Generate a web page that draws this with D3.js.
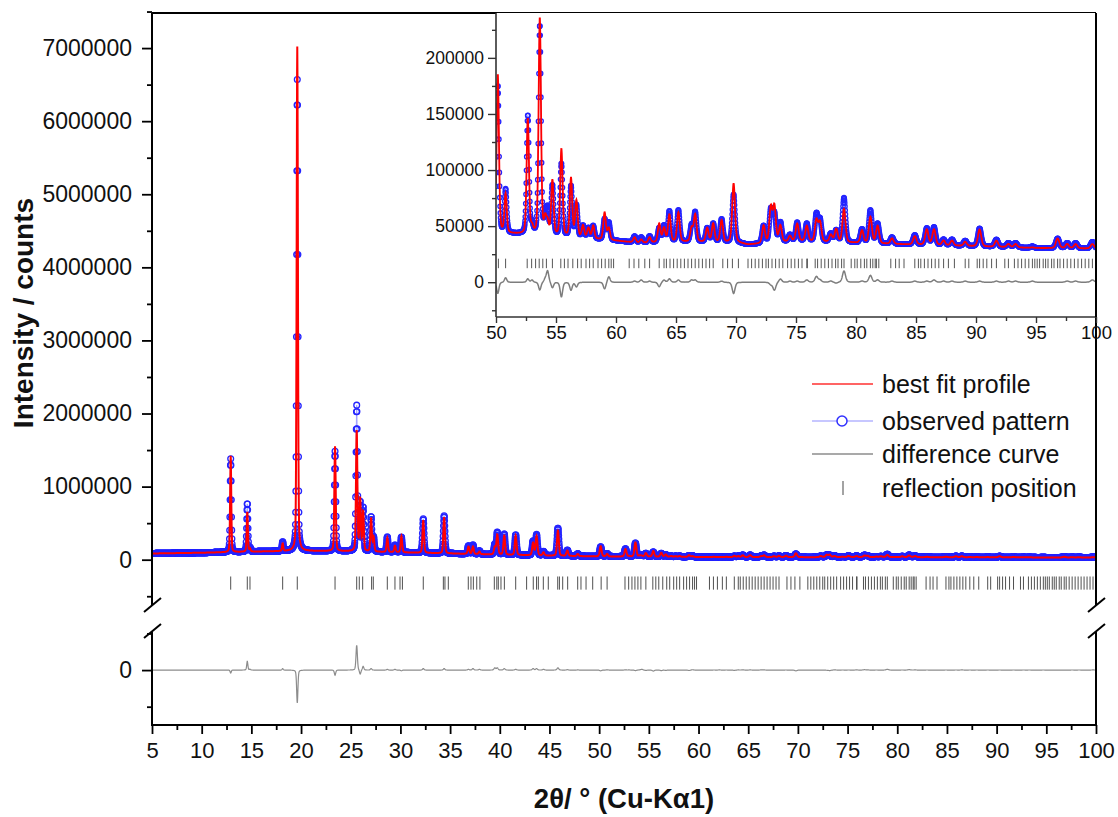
<!DOCTYPE html>
<html>
<head>
<meta charset="utf-8">
<script src="https://cdn.jsdelivr.net/npm/d3@7"></script>
<style>
body { margin: 0; background: #fff; }
svg text { font-family: "Liberation Sans", Arial, sans-serif; fill: #111; }
.narrow text { font-family: "Liberation Sans Narrow", "Liberation Sans", Arial, sans-serif; }
</style>
</head>
<body>
<svg id="chart" width="1118" height="817"></svg>
<script>
// peaks: 2theta, observed top and calculated top (counts)
const peakPos  = [12.92, 14.59, 14.86, 18.15, 19.62, 23.42, 25.60, 25.95, 26.25, 27.05, 27.30, 28.68, 29.45, 30.10,
                  32.30, 34.40, 36.85, 37.30, 37.95, 39.50, 39.75, 40.45, 41.60, 43.35, 43.70, 44.40, 45.85, 46.80, 47.85,
                  50.15, 50.80, 52.65, 53.00, 53.65, 54.10, 54.30, 54.70, 55.45, 56.25, 56.70, 57.25, 57.70, 58.10, 59.05, 59.40,
                  61.55, 62.10, 62.80, 63.60, 64.00, 64.45, 65.20, 66.30, 66.60, 67.60, 68.10, 68.80, 69.80,
                  72.30, 72.90, 73.20, 73.70, 74.50, 75.10, 75.90, 76.70, 77.00, 77.90, 78.35, 79.00,
                  80.50, 81.20, 81.80, 83.00, 84.90, 85.90, 86.50, 87.30, 88.00, 89.10, 90.30, 91.70,
                  92.70, 93.30, 94.70, 96.80, 97.60, 98.30, 99.70];
const peakObs  = [1380000, 770000, 160000, 240000, 6570000, 1480000, 2100000, 760000, 700000, 580000, 300000, 310000, 200000, 310000,
                  560000, 600000, 190000, 200000, 120000, 200000, 370000, 350000, 340000, 250000, 340000, 110000, 430000, 130000, 80000,
                  175000, 82000, 148000, 50000, 228000, 58000, 62000, 85000, 105000, 85000, 68000, 50000, 48000, 50000, 56000, 53000,
                  41000, 40000, 41000, 48000, 50000, 63000, 64000, 50000, 62000, 48000, 52000, 56000, 78000,
                  50000, 64000, 60000, 53000, 42000, 53000, 52000, 60000, 55000, 43000, 46000, 75000,
                  47000, 64000, 52000, 40000, 42000, 48000, 49000, 38000, 38000, 37000, 48000, 38000,
                  35000, 35000, 32000, 39000, 35000, 35000, 36000];
const peakCalc = [1420000, 650000, 150000, 220000, 7020000, 1550000, 1760000, 820000, 650000, 560000, 300000, 300000, 190000, 320000,
                  540000, 580000, 180000, 180000, 110000, 170000, 340000, 330000, 330000, 230000, 320000, 100000, 400000, 125000, 78000,
                  185000, 78000, 145000, 48000, 235000, 55000, 52000, 90000, 118000, 92000, 72000, 50000, 48000, 50000, 62000, 48000,
                  40000, 38000, 40000, 52000, 48000, 60000, 62000, 48000, 60000, 48000, 52000, 55000, 88000,
                  50000, 66000, 67000, 50000, 41000, 52000, 50000, 55000, 53000, 42000, 47000, 65000,
                  46000, 58000, 50000, 39000, 41000, 47000, 47000, 37000, 37000, 36000, 47000, 37000,
                  34000, 34000, 31000, 39000, 34000, 34000, 34000];
// background level under the pattern
const bgPos    = [5, 10, 15, 20, 25, 30, 35, 40, 45, 50, 55, 60, 62, 65, 70, 71, 75, 80, 85, 90, 95, 100];
const bgCounts = [85000, 95000, 110000, 120000, 115000, 100000, 85000, 68000, 55000, 44000, 41000, 37000, 35000, 36000, 35500, 33500, 36500, 35000, 33500, 32000, 30500, 30000];
// reflection (Bragg) positions
const reflPos  = [12.92, 14.59, 14.86, 18.15, 19.62, 23.42, 25.6, 25.86, 26.2, 27.1, 27.27, 28.68, 29.45, 29.96, 30.2,
                  32.3, 34.32, 34.48, 34.82, 36.83, 37.1, 37.34, 37.68, 38.0, 39.45, 39.7, 39.85, 40.12, 40.46, 41.6,
                  42.7, 43.37, 43.7, 43.88, 44.38, 44.88, 45.83, 46.0, 46.33, 46.83, 47.84, 48.17, 48.68, 49.35,
                  50.2, 50.8, 52.6, 52.97, 53.3, 53.6, 53.9, 54.2, 54.7,
                  55.4, 55.7, 56.0, 56.4, 56.8, 57.1, 57.5, 57.8, 58.1, 58.5, 58.8, 59.1, 59.4, 59.6, 59.8,
                  61.1, 61.5, 61.9, 62.4, 62.8,
                  63.6, 64.0, 64.2, 64.5, 64.8, 65.1, 65.4, 65.7, 66.0, 66.3, 66.6, 66.9, 67.2, 67.5, 67.8, 68.1,
                  68.9, 69.3, 69.7, 70.2,
                  71.0, 71.3, 71.6, 71.9, 72.2, 72.5, 72.7, 73.0, 73.3, 73.6, 73.9, 74.3, 74.6, 74.9, 75.2, 75.5, 75.9, 75.95,
                  76.6, 76.8, 77.1, 77.4, 77.7, 78.0, 78.3, 78.5, 78.8, 79.0,
                  79.6, 79.9, 80.1, 80.4, 80.7, 80.9, 81.2, 81.4, 81.6, 81.7, 81.9,
                  82.9, 83.3, 83.6, 84.0,
                  84.9, 85.2, 85.4, 85.7, 86.0, 86.3, 86.6, 86.9, 87.3, 87.7, 88.2,
                  89.1, 89.4, 90.1, 90.3, 90.6, 90.9, 91.3, 91.7,
                  92.4, 92.7, 93.2, 93.5, 93.8, 94.1, 94.4, 94.7, 94.9, 95.1, 95.3, 95.6, 95.8, 96.0, 96.3, 96.5,
                  96.8, 97.0, 97.3, 97.6, 97.9, 98.2, 98.5, 98.8, 99.1, 99.4, 99.7];

const xTicks      = [5, 10, 15, 20, 25, 30, 35, 40, 45, 50, 55, 60, 65, 70, 75, 80, 85, 90, 95, 100];
const mainYTicks  = [0, 1000000, 2000000, 3000000, 4000000, 5000000, 6000000, 7000000];
const insetXTicks = [50, 55, 60, 65, 70, 75, 80, 85, 90, 95, 100];
const insetYTicks = [0, 50000, 100000, 150000, 200000];
const legendNames = ["best fit profile", "observed pattern", "difference curve", "reflection position"];

// ---- build the profiles from the peak list ----
const bg = d3.scaleLinear().domain(bgPos).range(bgCounts);
const fwhm = t => 0.1 + 0.0025 * t;
const eta = 0.3;
const shape = (t, p) => {
    let z = 2 * (t - p) / fwhm(p);
    return eta / (1 + z * z) + (1 - eta) * Math.exp(-Math.LN2 * z * z);
};
const obsAmp = peakPos.map((p, i) => peakObs[i] - bg(p));
const calcAmp = peakPos.map((p, i) => peakCalc[i] - bg(p));

const grid = d3.range(5, 100.001, 0.02);
const profile = grid.map(t => {
    let o = bg(t), c = bg(t);
    for (let i = 0; i < peakPos.length; i++) {
        if (Math.abs(t - peakPos[i]) > 4) continue;
        let s = shape(t, peakPos[i]);
        o += obsAmp[i] * s;
        c += calcAmp[i] * s;
    }
    return {t: t, obs: o, calc: c, diff: o - c};
});

const svg = d3.select("#chart");
const defs = svg.append("defs");

// ---- main plot ----
const mLeft = 152, mRight = 1096, mTop = 13, upBottom = 605, loTop = 632, mBottom = 725;
const x = d3.scaleLinear().domain([5, 100]).range([mLeft, mRight]);
const yUp = d3.scaleLinear().domain([-620000, 7480000]).range([upBottom, mTop]);
const yLo = d3.scaleLinear().domain([-750000, 520000]).range([mBottom, loTop]);

defs.append("clipPath").attr("id", "clipUp").append("rect")
    .attr("x", mLeft).attr("y", mTop).attr("width", mRight - mLeft).attr("height", upBottom - mTop);
defs.append("clipPath").attr("id", "clipLo").append("rect")
    .attr("x", mLeft).attr("y", loTop).attr("width", mRight - mLeft).attr("height", mBottom - loTop);

const up = svg.append("g").attr("clip-path", "url(#clipUp)");
up.append("path").datum(profile)
    .attr("fill", "none").attr("stroke", "#a0a0ff").attr("stroke-width", 1)
    .attr("d", d3.line().x(d => x(d.t)).y(d => yUp(d.obs)));
up.append("g").selectAll("circle").data(profile).enter().append("circle")
    .attr("cx", d => x(d.t)).attr("cy", d => yUp(d.obs)).attr("r", 2.9)
    .attr("fill", "none").attr("stroke", "#2424ff").attr("stroke-width", 1.3);
up.append("path").datum(profile)
    .attr("fill", "none").attr("stroke", "#ff0000").attr("stroke-width", 2)
    .attr("d", d3.line().x(d => x(d.t)).y(d => yUp(d.calc)));
up.append("g").selectAll("line").data(reflPos).enter().append("line")
    .attr("x1", d => x(d)).attr("x2", d => x(d))
    .attr("y1", yUp(-230000)).attr("y2", yUp(-410000))
    .attr("stroke", "#505050").attr("stroke-width", 1);

svg.append("g").attr("clip-path", "url(#clipLo)")
    .append("path").datum(profile)
    .attr("fill", "none").attr("stroke", "#8c8c8c").attr("stroke-width", 1.2)
    .attr("d", d3.line().x(d => x(d.t)).y(d => yLo(d.diff)));

// axes
const styleAxis = (g, size) => {
    g.select(".domain").remove();
    g.selectAll(".tick line").attr("stroke", "#000").attr("stroke-width", 1.8);
    g.selectAll(".tick text").attr("font-size", size).attr("fill", "#111");
};
const upMinor = d3.range(-500000, 7500001, 500000).filter(v => v % 1000000 !== 0);
svg.append("g").attr("transform", "translate(" + mLeft + ",0)")
    .call(d3.axisLeft(yUp).tickValues(mainYTicks).tickSize(10).tickPadding(10).tickFormat(d3.format("d")))
    .call(g => styleAxis(g, 23));
svg.append("g").attr("transform", "translate(" + mLeft + ",0)")
    .call(d3.axisLeft(yUp).tickValues(upMinor).tickSize(5).tickFormat(""))
    .call(g => styleAxis(g, 0));
svg.append("g").attr("transform", "translate(" + mLeft + ",0)")
    .call(d3.axisLeft(yLo).tickValues([0]).tickSize(10).tickPadding(10).tickFormat(d3.format("d")))
    .call(g => styleAxis(g, 23));
svg.append("g").attr("transform", "translate(" + mLeft + ",0)")
    .call(d3.axisLeft(yLo).tickValues([-500000, 500000]).tickSize(5).tickFormat(""))
    .call(g => styleAxis(g, 0));
svg.append("g").attr("class", "narrow").attr("transform", "translate(0," + mBottom + ")")
    .call(d3.axisBottom(x).tickValues(xTicks).tickSize(9).tickPadding(8))
    .call(g => styleAxis(g, 22));
svg.append("g").attr("transform", "translate(0," + mBottom + ")")
    .call(d3.axisBottom(x).tickValues(xTicks.slice(0, -1).map(v => v + 2.5)).tickSize(5).tickFormat(""))
    .call(g => styleAxis(g, 0));

// frame with the break
const frame = svg.append("g").attr("stroke", "#000").attr("stroke-width", 2).attr("fill", "none");
[mLeft, mRight].forEach(px => {
    frame.append("line").attr("x1", px).attr("x2", px).attr("y1", mTop).attr("y2", upBottom);
    frame.append("line").attr("x1", px).attr("x2", px).attr("y1", loTop).attr("y2", mBottom + 1);
    frame.append("line").attr("x1", px - 8).attr("x2", px + 9).attr("y1", upBottom + 7).attr("y2", upBottom - 7);
    frame.append("line").attr("x1", px - 8).attr("x2", px + 9).attr("y1", loTop + 6).attr("y2", loTop - 8);
});
frame.append("line").attr("x1", mLeft).attr("x2", mRight).attr("y1", mTop).attr("y2", mTop);
frame.append("line").attr("x1", mLeft - 1).attr("x2", mRight + 1).attr("y1", mBottom).attr("y2", mBottom);

// ---- inset ----
const iLeft = 496, iTop = 13, iBottom = 317;
const xi = d3.scaleLinear().domain([50, 100]).range([iLeft, mRight]);
const yi = d3.scaleLinear().domain([-31000, 240000]).range([iBottom, iTop]);
const insetData = profile.filter(d => d.t >= 49.99);

svg.append("rect").attr("x", iLeft).attr("y", iTop).attr("width", mRight - iLeft).attr("height", iBottom - iTop).attr("fill", "#fff");
defs.append("clipPath").attr("id", "clipIn").append("rect")
    .attr("x", iLeft).attr("y", iTop).attr("width", mRight - iLeft).attr("height", iBottom - iTop);
const inset = svg.append("g").attr("clip-path", "url(#clipIn)");
inset.append("path").datum(insetData)
    .attr("fill", "none").attr("stroke", "#a0a0ff").attr("stroke-width", 1)
    .attr("d", d3.line().x(d => xi(d.t)).y(d => yi(d.obs)));
inset.append("g").selectAll("circle").data(insetData).enter().append("circle")
    .attr("cx", d => xi(d.t)).attr("cy", d => yi(d.obs)).attr("r", 2.2)
    .attr("fill", "none").attr("stroke", "#2424ff").attr("stroke-width", 1.3);
inset.append("path").datum(insetData)
    .attr("fill", "none").attr("stroke", "#ff0000").attr("stroke-width", 1.8)
    .attr("d", d3.line().x(d => xi(d.t)).y(d => yi(d.calc)));
inset.append("g").selectAll("line").data(reflPos.filter(v => v >= 50)).enter().append("line")
    .attr("x1", d => xi(d)).attr("x2", d => xi(d))
    .attr("y1", yi(21000)).attr("y2", yi(12500))
    .attr("stroke", "#555").attr("stroke-width", 1);
inset.append("path").datum(insetData)
    .attr("fill", "none").attr("stroke", "#7d7d7d").attr("stroke-width", 1.5)
    .attr("d", d3.line().x(d => xi(d.t)).y(d => yi(d.diff)));

svg.append("g").attr("transform", "translate(" + iLeft + ",0)")
    .call(d3.axisLeft(yi).tickValues(insetYTicks).tickSize(8).tickPadding(4).tickFormat(d3.format("d")))
    .call(g => styleAxis(g, 17.5))
    .call(g => g.selectAll(".tick line").attr("stroke-width", 1.4).attr("stroke", "#333"));
svg.append("g").attr("transform", "translate(" + iLeft + ",0)")
    .call(d3.axisLeft(yi).tickValues([-25000, 25000, 75000, 125000, 175000, 225000]).tickSize(4).tickFormat(""))
    .call(g => styleAxis(g, 0))
    .call(g => g.selectAll(".tick line").attr("stroke-width", 1.4).attr("stroke", "#333"));
svg.append("g").attr("class", "narrow").attr("transform", "translate(0," + iBottom + ")")
    .call(d3.axisBottom(xi).tickValues(insetXTicks).tickSize(6).tickPadding(3))
    .call(g => styleAxis(g, 18.5))
    .call(g => g.selectAll(".tick line").attr("stroke-width", 1.4).attr("stroke", "#333"));
svg.append("g").attr("transform", "translate(0," + iBottom + ")")
    .call(d3.axisBottom(xi).tickValues(insetXTicks.slice(0, -1).map(v => v + 2.5)).tickSize(4).tickFormat(""))
    .call(g => styleAxis(g, 0))
    .call(g => g.selectAll(".tick line").attr("stroke-width", 1.4).attr("stroke", "#333"));
svg.append("line").attr("x1", iLeft).attr("x2", iLeft).attr("y1", iTop).attr("y2", iBottom)
    .attr("stroke", "#333").attr("stroke-width", 1.6);
svg.append("line").attr("x1", iLeft).attr("x2", mRight).attr("y1", iBottom).attr("y2", iBottom)
    .attr("stroke", "#333").attr("stroke-width", 1.6);
svg.append("line").attr("x1", mRight).attr("x2", mRight).attr("y1", mTop).attr("y2", iBottom)
    .attr("stroke", "#000").attr("stroke-width", 2);

// ---- legend ----
const legendY = [384, 421, 454, 488];
const leg = svg.append("g");
leg.append("line").attr("x1", 812).attr("x2", 873).attr("y1", legendY[0]).attr("y2", legendY[0])
    .attr("stroke", "#ff3030").attr("stroke-width", 1.5);
leg.append("line").attr("x1", 812).attr("x2", 873).attr("y1", legendY[1]).attr("y2", legendY[1])
    .attr("stroke", "#b4b4ff").attr("stroke-width", 1.5);
leg.append("circle").attr("cx", 842).attr("cy", legendY[1]).attr("r", 5)
    .attr("fill", "#fff").attr("stroke", "#3030ff").attr("stroke-width", 1.5);
leg.append("line").attr("x1", 812).attr("x2", 873).attr("y1", legendY[2]).attr("y2", legendY[2])
    .attr("stroke", "#8c8c8c").attr("stroke-width", 1.5);
leg.append("line").attr("x1", 843).attr("x2", 843).attr("y1", legendY[3] - 7).attr("y2", legendY[3] + 7)
    .attr("stroke", "#666").attr("stroke-width", 1.2);
leg.selectAll("text").data(legendNames).enter().append("text")
    .attr("x", 882).attr("y", (d, i) => legendY[i]).attr("dy", "0.35em")
    .attr("font-size", 25).text(d => d);

// ---- titles ----
svg.append("text")
    .attr("transform", "translate(33,313) rotate(-90)")
    .attr("text-anchor", "middle").attr("font-size", 28).attr("font-weight", "bold")
    .text("Intensity / counts");
svg.append("text")
    .attr("x", 624).attr("y", 808)
    .attr("text-anchor", "middle").attr("font-size", 27.5).attr("font-weight", "bold")
    .text("2θ/ ° (Cu-Kα1)");
</script>
</body>
</html>
